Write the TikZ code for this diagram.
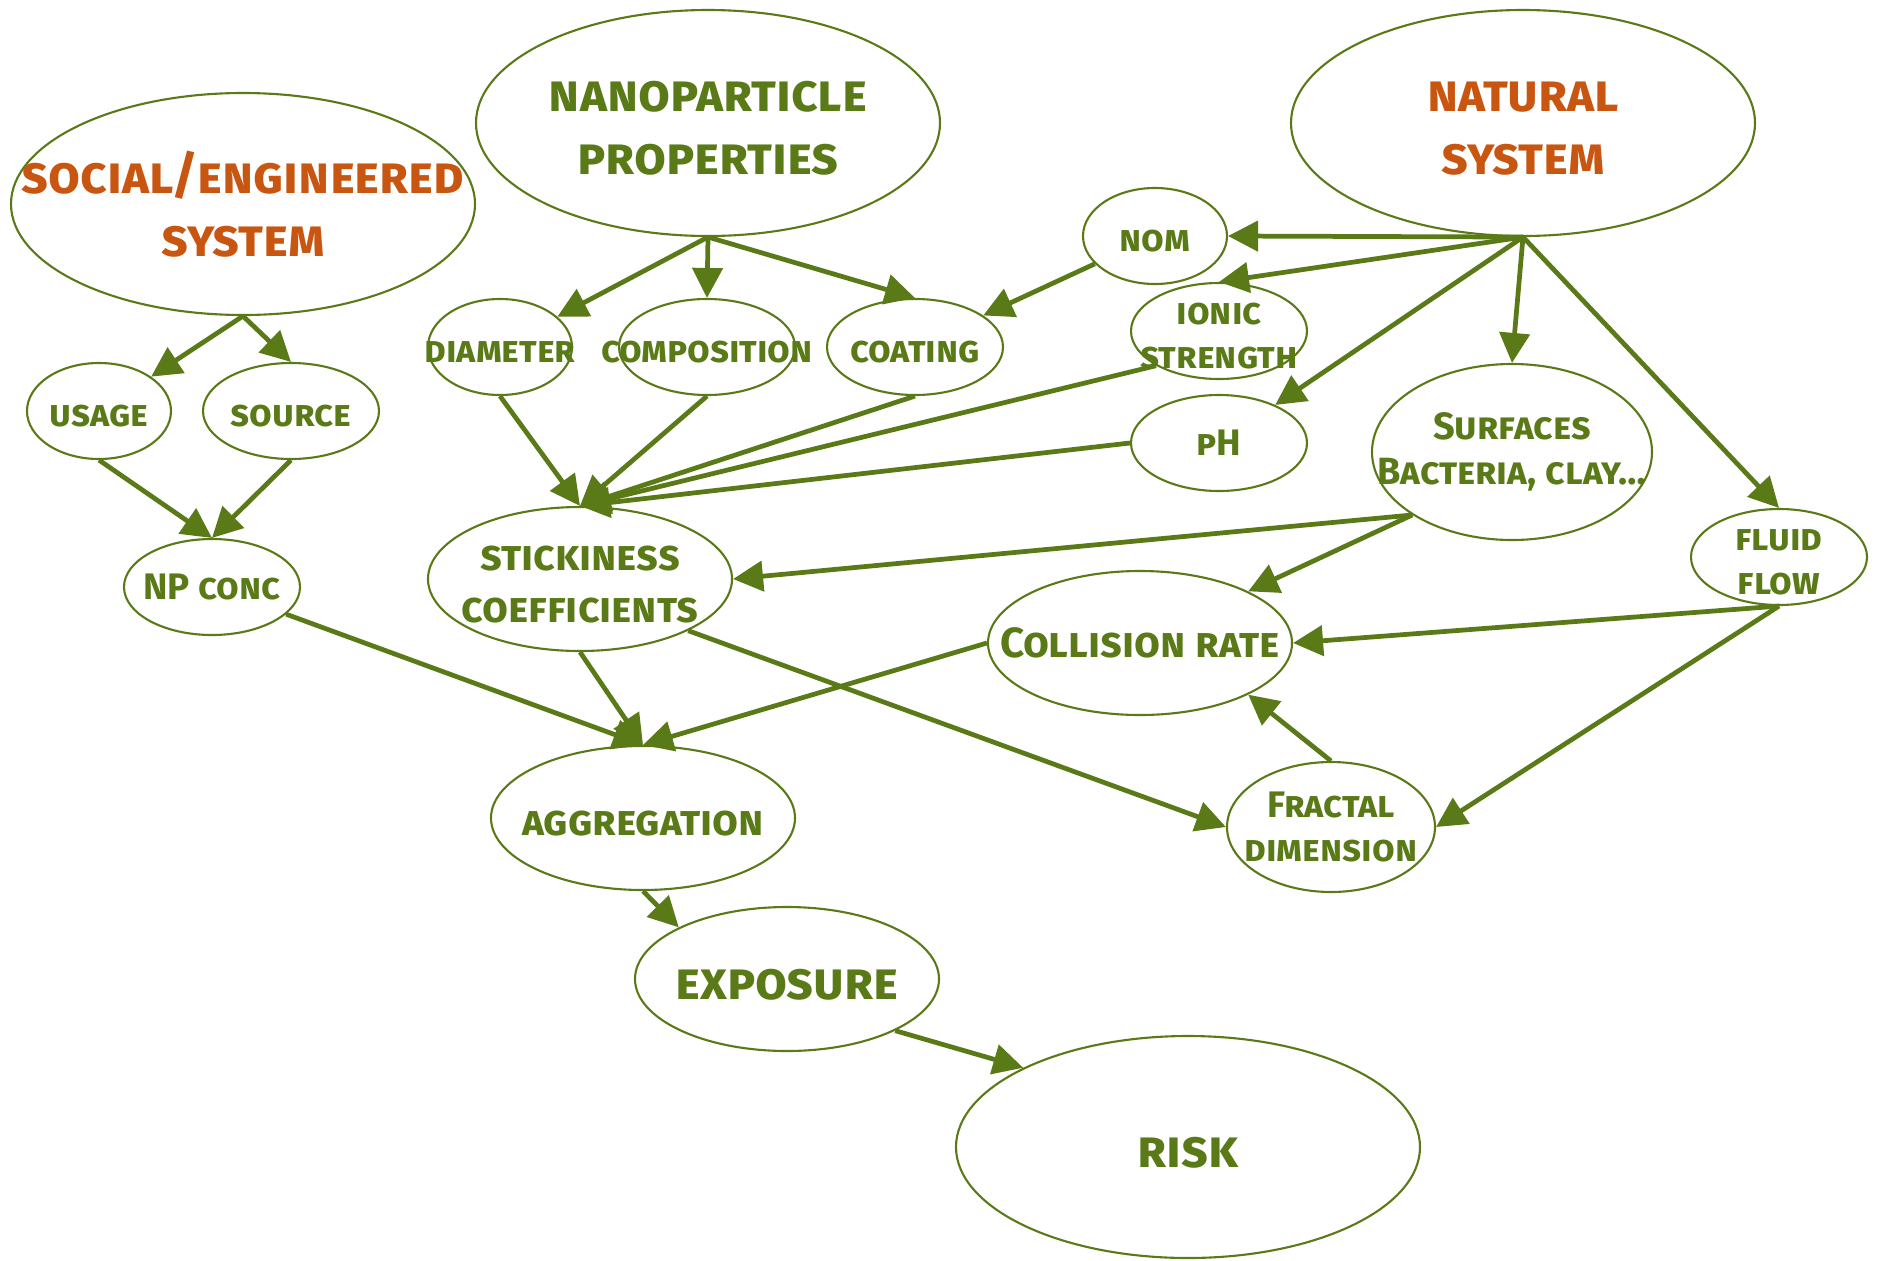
\documentclass[tikz,border=0pt]{standalone}
\usepackage{fontspec}
\setmainfont{Fira Sans}
\usetikzlibrary{shapes.geometric,arrows.meta}
\definecolor{npgreen}{RGB}{90,122,24}
\definecolor{nporange}{RGB}{200,86,16}

\begin{document}
\begin{tikzpicture}

\tikzstyle{bub} = [ellipse, draw=npgreen, line width=0.6pt, inner sep=0pt]
\tikzstyle{txtbig} = [text=npgreen, align=center, yshift=-1.5pt, font=\fontsize{14.8}{18}\selectfont\bfseries\scshape]
\tikzstyle{txtmid} = [text=npgreen, align=center, yshift=-1.5pt, font=\fontsize{12}{14.8}\selectfont\bfseries\scshape]
\tikzstyle{txtsmall} = [text=npgreen, align=center, yshift=-1.5pt, font=\fontsize{10.5}{12.6}\selectfont\bfseries\scshape]
\tikzstyle{caps} = [yshift=1.5pt]
\tikzstyle{arr} = [-{Triangle[length=0.3cm,width=0.3cm]}, draw=npgreen, line width=1.35pt]

\useasboundingbox (0,0) rectangle (18.79,12.60);

% top level
\node[bub, minimum width=4.64cm, minimum height=2.22cm, label={[txtbig, caps, text=nporange]center:{social/engineered\\system}}] (soc) at (2.43,10.56) {};
\node[bub, minimum width=4.64cm, minimum height=2.26cm, label={[txtbig]center:{nanoparticle\\properties}}] (nano) at (7.08,11.37) {};
\node[bub, minimum width=4.64cm, minimum height=2.26cm, label={[txtbig, text=nporange]center:{natural\\system}}] (nat) at (15.23,11.37) {};

% factors
\node[bub, minimum width=1.44cm, minimum height=0.96cm, label={[txtsmall]center:usage}] (use) at (0.99,8.49) {};
\node[bub, minimum width=1.76cm, minimum height=0.96cm, label={[txtsmall]center:source}] (src) at (2.91,8.49) {};
\node[bub, minimum width=1.76cm, minimum height=0.96cm, label={[txtsmall, caps]center:NP conc}] (npc) at (2.12,6.73) {};

\node[bub, minimum width=1.44cm, minimum height=0.96cm, label={[txtsmall]center:diameter}] (dia) at (5.00,9.13) {};
\node[bub, minimum width=1.76cm, minimum height=0.96cm, label={[txtsmall]center:composition}] (comp) at (7.07,9.13) {};
\node[bub, minimum width=1.76cm, minimum height=0.96cm, label={[txtsmall]center:coating}] (coat) at (9.15,9.13) {};

\node[bub, minimum width=1.44cm, minimum height=0.96cm, label={[txtsmall]center:nom}] (nom) at (11.55,10.24) {};
\node[bub, minimum width=1.76cm, minimum height=0.96cm, label={[txtsmall]center:{ionic\\strength}}] (ion) at (12.19,9.29) {};
\node[bub, minimum width=1.76cm, minimum height=0.96cm, label={[txtsmall, caps]center:pH}] (ph) at (12.19,8.17) {};
\node[bub, minimum width=2.80cm, minimum height=1.76cm, label={[txtsmall, caps, font=\fontsize{10.8}{12.9}\selectfont\bfseries\scshape]center:{Surfaces\\Bacteria, clay…}}] (surf) at (15.12,8.08) {};
\node[bub, minimum width=1.76cm, minimum height=0.96cm, label={[txtsmall]center:{fluid\\flow}}] (flow) at (17.79,7.03) {};

% processes
\node[bub, minimum width=3.04cm, minimum height=1.44cm, label={[txtmid]center:{stickiness\\coefficients}}] (stick) at (5.80,6.81) {};
\node[bub, minimum width=3.04cm, minimum height=1.44cm, label={[txtmid, caps]center:Collision rate}] (coll) at (11.40,6.17) {};
\node[bub, minimum width=2.08cm, minimum height=1.30cm, label={[txtsmall, caps]center:{Fractal\\dimension}}] (frac) at (13.31,4.33) {};
\node[bub, minimum width=3.04cm, minimum height=1.44cm, label={[txtmid]center:aggregation}] (agg) at (6.43,4.42) {};
\node[bub, minimum width=3.04cm, minimum height=1.44cm, label={[txtbig]center:exposure}] (expo) at (7.87,2.81) {};
\node[bub, minimum width=4.64cm, minimum height=2.22cm, label={[txtbig]center:risk}] (risk) at (11.88,1.13) {};


\draw[arr] (soc.south) -- (use);
\draw[arr] (soc.south) -- (src.north);
\draw[arr] (use.south) -- (npc.north);
\draw[arr] (src.south) -- (npc.north);
\draw[arr] (npc) -- (agg.north);

\draw[arr] (nano.south) -- (dia);
\draw[arr] (nano.south) -- (comp.north);
\draw[arr] (nano.south) -- (coat.north);
\draw[arr] (nom) -- (coat);

\draw[arr] (nat.south) -- (nom.east);
\draw[arr] (nat.south) -- (ion.north);
\draw[arr] (nat.south) -- (ph);
\draw[arr] (nat.south) -- (surf.north);
\draw[arr] (nat.south) -- (flow.north);

\draw[arr] (dia.south) -- (stick.north);
\draw[arr] (comp.south) -- (stick.north);
\draw[arr] (coat.south) -- (stick.north);
\draw[arr] (ion.south west) -- (stick.north);
\draw[arr] (ph.west) -- (stick.north);

\draw[arr] (surf.south west) -- (stick.east);
\draw[arr] (surf.south west) -- (coll.north east);
\draw[arr] (flow.south) -- (coll.east);
\draw[arr] (flow.south) -- (frac.east);
\draw[arr] (frac.north) -- (coll.south east);
\draw[arr] (stick.south east) -- (frac.west);
\draw[arr] (stick.south) -- (agg.north);
\draw[arr] (coll.west) -- (agg.north);
\draw[arr] (agg.south) -- (expo.north west);
\draw[arr] (expo.south east) -- (risk.north west);
\end{tikzpicture}
\end{document}
